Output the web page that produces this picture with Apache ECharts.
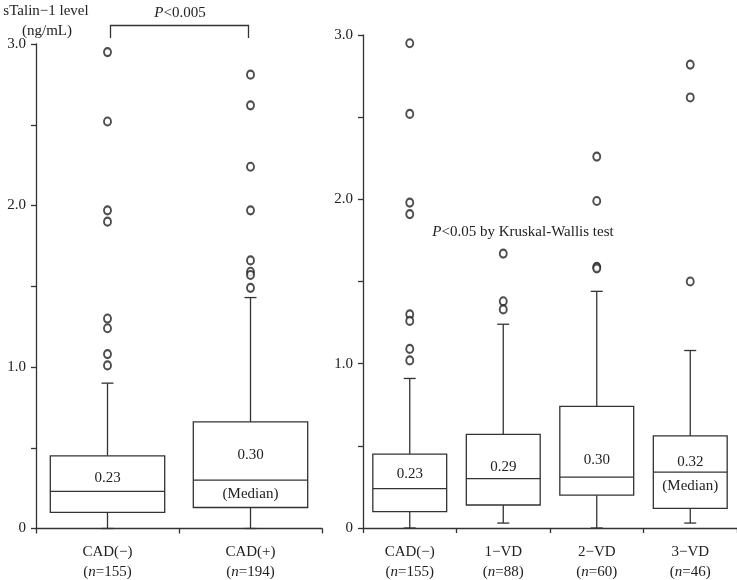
<!DOCTYPE html>
<html>
<head>
<meta charset="utf-8">
<script src="https://cdn.jsdelivr.net/npm/echarts@6/dist/echarts.min.js"></script>
<style>
  html, body { margin: 0; padding: 0; background: #fff; }
  #chart { width: 737px; height: 580px; }
</style>
</head>
<body>
<div id="chart"></div>
<script>
// left panel: CAD(-) vs CAD(+)
const leftCats = ['CAD(−)', 'CAD(+)'];
const leftN = [155, 194];
// [low whisker, q1, median, q3, high whisker]
const leftBoxes = [
  [0, 0.10, 0.23, 0.45, 0.90],
  [0, 0.13, 0.30, 0.66, 1.43]
];
const leftOutliers = [
  [0, 2.95], [0, 2.52], [0, 1.97], [0, 1.90], [0, 1.30], [0, 1.24], [0, 1.08], [0, 1.01],
  [1, 2.81], [1, 2.62], [1, 2.24], [1, 1.97], [1, 1.66], [1, 1.59], [1, 1.57], [1, 1.49]
];
const leftMedianText = ['0.23', '0.30'];
const leftNoteText = ['', '(Median)'];

// right panel: by number of diseased vessels
const rightCats = ['CAD(−)', '1−VD', '2−VD', '3−VD'];
const rightN = [155, 88, 60, 46];
const rightBoxes = [
  [0, 0.10, 0.24, 0.45, 0.91],
  [0.03, 0.14, 0.30, 0.57, 1.24],
  [0, 0.20, 0.31, 0.74, 1.44],
  [0.03, 0.12, 0.34, 0.56, 1.08]
];
const rightOutliers = [
  [0, 2.95], [0, 2.52], [0, 1.98], [0, 1.91], [0, 1.30], [0, 1.26], [0, 1.09], [0, 1.02],
  [1, 1.67], [1, 1.38], [1, 1.33],
  [2, 2.26], [2, 1.99], [2, 1.59], [2, 1.58],
  [3, 2.82], [3, 2.62], [3, 1.50]
];
const rightMedianText = ['0.23', '0.29', '0.30', '0.32'];
const rightNoteText = ['', '', '', '(Median)'];

const FONT = '"Liberation Serif", "DejaVu Serif", serif';
const INK = '#333';
// pixel gap between median line and the value text above it
const leftTextGap = [13, 25];
const rightTextGap = [14, 12, 17, 10];

function xLabel(cats, ns) {
  return function (v, i) {
    return '{t|' + v + '}\n{t|(}{i|n}{t|=' + ns[i] + ')}';
  };
}
const labelRich = {
  t: { fontFamily: FONT, fontSize: 15, color: '#222', lineHeight: 20 },
  i: { fontFamily: FONT, fontSize: 15, color: '#222', lineHeight: 20, fontStyle: 'italic' }
};

function boxRenderer(ratio, medTxt, noteTxt, gaps) {
  return function (params, api) {
    const idx = api.value(0);
    const lo = api.value(1), q1 = api.value(2), med = api.value(3), q3 = api.value(4), hi = api.value(5);
    const xc = api.coord([idx, 0])[0];
    const w = api.size([1, 0])[0] * ratio;
    const yLo = api.coord([idx, lo])[1];
    const yQ1 = api.coord([idx, q1])[1];
    const yMed = api.coord([idx, med])[1];
    const yQ3 = api.coord([idx, q3])[1];
    const yHi = api.coord([idx, hi])[1];
    const ls = { stroke: INK, lineWidth: 1.3, fill: null };
    const cap = 6;
    const kids = [
      { type: 'line', shape: { x1: xc, y1: yQ3, x2: xc, y2: yHi }, style: ls },
      { type: 'line', shape: { x1: xc - cap, y1: yHi, x2: xc + cap, y2: yHi }, style: ls },
      { type: 'line', shape: { x1: xc, y1: yQ1, x2: xc, y2: yLo }, style: ls },
      { type: 'line', shape: { x1: xc - cap, y1: yLo, x2: xc + cap, y2: yLo }, style: ls },
      { type: 'rect', shape: { x: xc - w / 2, y: yQ3, width: w, height: yQ1 - yQ3 }, style: { stroke: INK, lineWidth: 1.3, fill: '#fff' } },
      { type: 'line', shape: { x1: xc - w / 2, y1: yMed, x2: xc + w / 2, y2: yMed }, style: ls },
      { type: 'text', style: { text: medTxt[idx], x: xc, y: yMed - gaps[idx], align: 'center', verticalAlign: 'middle', font: '15px ' + FONT, fill: '#222' } }
    ];
    if (noteTxt[idx]) {
      kids.push({ type: 'text', style: { text: noteTxt[idx], x: xc, y: yMed + 14, align: 'center', verticalAlign: 'middle', font: '15px ' + FONT, fill: '#222' } });
    }
    return { type: 'group', children: kids };
  };
}

function yAxisCfg(gridIndex) {
  return {
    type: 'value', gridIndex: gridIndex,
    min: 0, max: 3, interval: 0.5,
    axisLine: { show: true, lineStyle: { color: INK, width: 1.3 } },
    axisTick: { show: true, length: 5, lineStyle: { color: INK, width: 1.3 } },
    splitLine: { show: false },
    axisLabel: {
      margin: 10, fontFamily: FONT, fontSize: 15, color: '#222',
      formatter: v => (v % 1 === 0 ? (v === 0 ? '0' : v.toFixed(1)) : '')
    }
  };
}

function xAxisCfg(gridIndex, cats, ns) {
  return {
    type: 'category', gridIndex: gridIndex, data: cats,
    axisLine: { show: true, lineStyle: { color: INK, width: 1.3 } },
    axisTick: { show: true, length: 5, lineStyle: { color: INK, width: 1.3 } },
    axisLabel: { margin: 14, formatter: xLabel(cats, ns), rich: labelRich, interval: 0 }
  };
}

const outlierStyle = { color: '#222', borderColor: '#222', borderWidth: 1.2 };

const chart = echarts.init(document.getElementById('chart'));
chart.setOption({
  backgroundColor: '#fff',
  animation: false,
  grid: [
    { left: 36, top: 44, width: 286, bottom: 51 },
    { left: 363, top: 35, right: 0, bottom: 52 }
  ],
  xAxis: [xAxisCfg(0, leftCats, leftN), xAxisCfg(1, rightCats, rightN)],
  yAxis: [yAxisCfg(0), yAxisCfg(1)],
  series: [
    {
      type: 'custom', xAxisIndex: 0, yAxisIndex: 0,
      renderItem: boxRenderer(0.8, leftMedianText, leftNoteText, leftTextGap),
      encode: { x: 0, y: [1, 2, 3, 4, 5] },
      data: leftBoxes.map((b, i) => [i].concat(b)),
      z: 2
    },
    {
      type: 'scatter', xAxisIndex: 0, yAxisIndex: 0,
      symbol: 'emptyCircle', symbolSize: [7, 8],
      itemStyle: outlierStyle,
      data: leftOutliers, z: 3
    },
    {
      type: 'custom', xAxisIndex: 1, yAxisIndex: 1,
      renderItem: boxRenderer(0.79, rightMedianText, rightNoteText, rightTextGap),
      encode: { x: 0, y: [1, 2, 3, 4, 5] },
      data: rightBoxes.map((b, i) => [i].concat(b)),
      z: 2
    },
    {
      type: 'scatter', xAxisIndex: 1, yAxisIndex: 1,
      symbol: 'emptyCircle', symbolSize: [7, 8],
      itemStyle: outlierStyle,
      data: rightOutliers, z: 3
    }
  ]
});

// annotations: axis title, bracket with P value, Kruskal-Wallis note
const xa = chart.convertToPixel({ xAxisIndex: 0 }, 0);
const xb = chart.convertToPixel({ xAxisIndex: 0 }, 1);
const pRich = {
  i: { fontFamily: FONT, fontSize: 15, fill: '#222', fontStyle: 'italic' },
  t: { fontFamily: FONT, fontSize: 15, fill: '#222' }
};
chart.setOption({
  graphic: [
    { type: 'text', x: 46, y: 11, style: { text: 'sTalin−1 level', font: '15px ' + FONT, fill: '#222', align: 'center', verticalAlign: 'middle' } },
    { type: 'text', x: 47, y: 31, style: { text: '(ng/mL)', font: '15px ' + FONT, fill: '#222', align: 'center', verticalAlign: 'middle' } },
    {
      type: 'polyline',
      shape: { points: [[xa + 3, 38], [xa + 3, 25.5], [xb - 2, 25.5], [xb - 2, 38]] },
      style: { stroke: INK, lineWidth: 1.3, fill: null }
    },
    { type: 'text', x: (xa + xb) / 2 + 1, y: 13, style: { text: '{i|P}{t|<0.005}', rich: pRich, align: 'center', verticalAlign: 'middle' } },
    { type: 'text', x: 523, y: 232, style: { text: '{i|P}{t|<0.05 by Kruskal-Wallis test}', rich: pRich, align: 'center', verticalAlign: 'middle' } }
  ]
});
</script>
</body>
</html>
